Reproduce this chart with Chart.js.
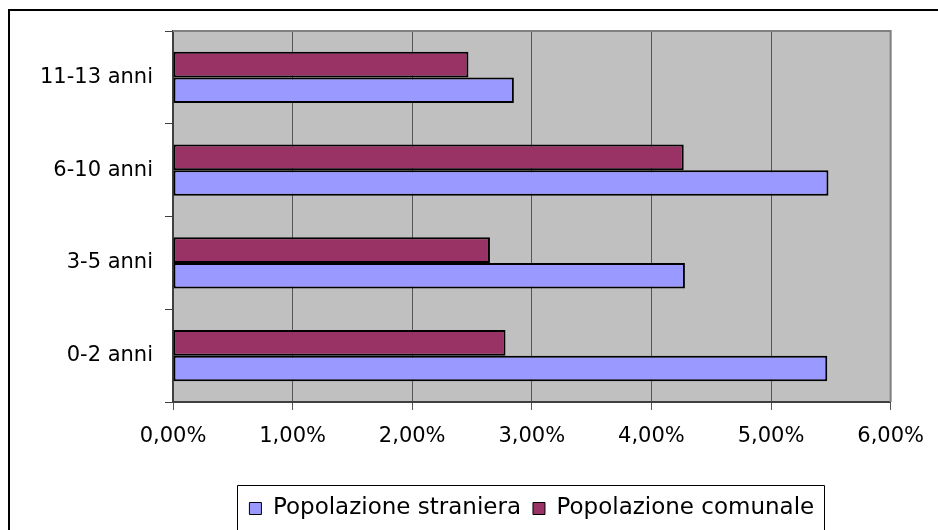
<!DOCTYPE html>
<html>
<head>
<meta charset="utf-8">
<script src="https://cdn.jsdelivr.net/npm/chart.js@4/dist/chart.umd.min.js"></script>
<style>
  html, body { margin: 0; padding: 0; background: #fff; overflow: hidden; }
  #wrap { position: relative; width: 938px; height: 530px; }
</style>
</head>
<body>
<div id="wrap"><canvas id="chart" width="938" height="530"></canvas></div>
<script>
const categories = ["0-2 anni", "3-5 anni", "6-10 anni", "11-13 anni"];
const stranieraValues = [5.47, 4.28, 5.48, 2.85];
const comunaleValues = [2.78, 2.65, 4.27, 2.47];
const seriesNames = ["Popolazione straniera", "Popolazione comunale"];
const tickLabels = ["0,00%", "1,00%", "2,00%", "3,00%", "4,00%", "5,00%", "6,00%"];

const FONT = "'DejaVu Sans', 'Liberation Sans', Arial, sans-serif";
const FONT_SIZE = 21;
const LEGEND_SIZE = 23;

// gray plot area, outer frame and the box around the legend
const excelLook = {
    id: "excelLook",
    beforeDraw(chart) {
        let { ctx, chartArea: a } = chart;
        ctx.save();
        ctx.fillStyle = "#c0c0c0";
        ctx.fillRect(a.left, a.top, a.right - a.left, a.bottom - a.top);
        ctx.strokeStyle = "#000";
        ctx.lineWidth = 2;
        ctx.beginPath();
        ctx.moveTo(9, 540);
        ctx.lineTo(9, 10);
        ctx.lineTo(940, 10);
        ctx.stroke();
        ctx.restore();
    },
    afterLayout(chart) {
        let lg = chart.legend, a = chart.chartArea;
        lg.left = a.left;
        lg.right = a.right;
        lg.width = a.right - a.left;
    },
    afterDatasetsDraw(chart) {
        let { ctx, chartArea: a } = chart;
        ctx.save();
        ctx.strokeStyle = "#808080";
        ctx.lineWidth = 2;
        ctx.beginPath();
        ctx.moveTo(a.left, a.top);
        ctx.lineTo(a.right, a.top);
        ctx.lineTo(a.right, a.bottom);
        ctx.stroke();
        ctx.restore();
    },
    afterDraw(chart) {
        let { ctx } = chart;
        let lg = chart.legend;
        let opts = lg.options.labels;
        ctx.save();
        ctx.font = LEGEND_SIZE + "px " + FONT;
        let w = 0;
        seriesNames.forEach((t, i) => {
            w += opts.boxWidth + LEGEND_SIZE / 2 + ctx.measureText(t).width;
            if (i > 0) w += opts.padding;
        });
        let cx = (lg.left + lg.right) / 2;
        let x0 = Math.round(cx - w / 2 - 12) + 0.5;
        let x1 = Math.round(cx + w / 2 + 10) + 0.5;
        let y0 = Math.round(lg.top) + 0.5;
        ctx.strokeStyle = "#000";
        ctx.lineWidth = 1;
        ctx.beginPath();
        ctx.moveTo(x0, 540);
        ctx.lineTo(x0, y0);
        ctx.lineTo(x1, y0);
        ctx.lineTo(x1, 540);
        ctx.stroke();
        ctx.restore();
    }
};

new Chart(document.getElementById("chart"), {
    type: "bar",
    data: {
        labels: categories,
        datasets: [
            {
                label: seriesNames[1],
                data: comunaleValues,
                backgroundColor: "#993366",
                borderColor: "#000",
                borderWidth: 2,
                borderSkipped: false,
            },
            {
                label: seriesNames[0],
                data: stranieraValues,
                backgroundColor: "#9999ff",
                borderColor: "#000",
                borderWidth: 2,
                borderSkipped: false,
            },
        ],
    },
    options: {
        indexAxis: "y",
        responsive: false,
        animation: false,
        maintainAspectRatio: false,
        layout: { padding: { top: 31, right: 36, left: 0, bottom: 0 } },
        datasets: { bar: { categoryPercentage: 0.55, barPercentage: 1 } },
        scales: {
            y: {
                reverse: true,
                afterFit(s) { s.width = 173; },
                grid: { offset: true, drawOnChartArea: false, drawTicks: true, tickLength: 8, color: "#404040", lineWidth: 1 },
                border: { display: true, color: "#404040", width: 2 },
                ticks: { color: "#000", font: { family: FONT, size: FONT_SIZE }, padding: 12 },
            },
            x: {
                min: 0,
                max: 6,
                afterFit(s) { s.height = 83; },
                afterBuildTicks(s) {
                    s.ticks = tickLabels.map((t, i) => ({ value: i }));
                },
                grid: { color: "#555", lineWidth: 1, tickLength: 8 },
                border: { display: true, color: "#404040", width: 2 },
                ticks: {
                    color: "#000",
                    font: { family: FONT, size: FONT_SIZE },
                    padding: 14,
                    maxRotation: 0,
                    callback: (v, i) => tickLabels[i],
                },
            },
        },
        plugins: {
            tooltip: { enabled: false },
            legend: {
                position: "bottom",
                reverse: true,
                labels: {
                    color: "#000",
                    font: { family: FONT, size: LEGEND_SIZE },
                    boxWidth: 12,
                    boxHeight: 12,
                    padding: 12,
                    generateLabels(chart) {
                        return chart.data.datasets.map((d, i) => ({
                            text: d.label,
                            fillStyle: d.backgroundColor,
                            strokeStyle: "#000",
                            lineWidth: 1,
                            datasetIndex: i,
                            fontColor: "#000",
                        }));
                    },
                },
            },
        },
    },
    plugins: [excelLook],
});
</script>
</body>
</html>
